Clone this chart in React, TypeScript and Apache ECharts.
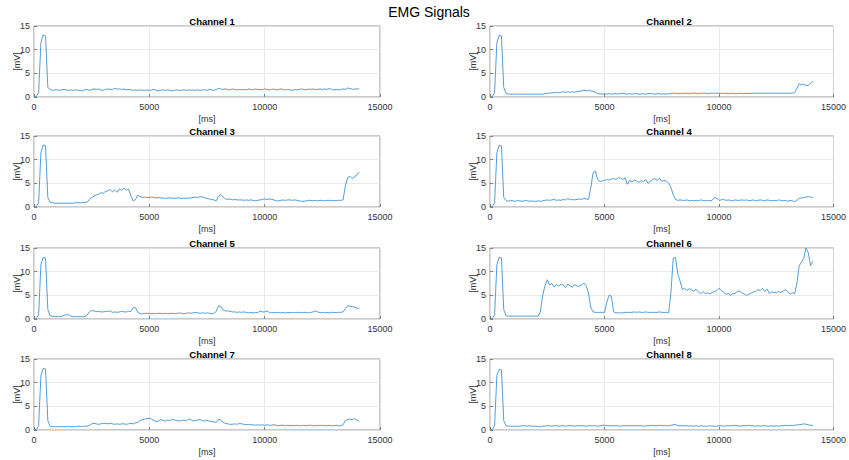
import React, { useEffect, useRef } from "react";
import * as echarts from "echarts";

const STEP_MS = 100;
const CHANNEL_NAMES = ["Channel 1", "Channel 2", "Channel 3", "Channel 4", "Channel 5", "Channel 6", "Channel 7", "Channel 8"];
const X_TICKS = [0, 5000, 10000, 15000];
const Y_TICKS = [0, 5, 10, 15];

const ch1 = [
  0, 0.1, 0.9, 11.5, 13.1, 12.9, 2.0, 1.6, 1.4, 1.5,
  1.5, 1.4, 1.5, 1.6, 1.5, 1.4, 1.5, 1.4, 1.5, 1.4,
  1.4, 1.3, 1.5, 1.6, 1.4, 1.6, 1.7, 1.6, 1.7, 1.5,
  1.4, 1.6, 1.7, 1.6, 1.6, 1.8, 1.7, 1.7, 1.6, 1.7,
  1.5, 1.6, 1.5, 1.4, 1.5, 1.4, 1.5, 1.4, 1.4, 1.5,
  1.4, 1.5, 1.6, 1.4, 1.3, 1.4, 1.5, 1.4, 1.5, 1.4,
  1.3, 1.4, 1.5, 1.4, 1.4, 1.5, 1.4, 1.5, 1.4, 1.5,
  1.4, 1.5, 1.4, 1.5, 1.5, 1.4, 1.6, 1.5, 1.4, 1.6,
  1.8, 1.7, 1.6, 1.7, 1.6, 1.5, 1.7, 1.6, 1.5, 1.6,
  1.5, 1.6, 1.5, 1.7, 1.6, 1.5, 1.7, 1.6, 1.6, 1.5,
  1.7, 1.6, 1.5, 1.6, 1.7, 1.5, 1.6, 1.7, 1.6, 1.5,
  1.6, 1.5, 1.4, 1.6, 1.5, 1.6, 1.7, 1.6, 1.5, 1.7,
  1.6, 1.7, 1.6, 1.6, 1.7, 1.6, 1.7, 1.6, 1.8, 1.6,
  1.5, 1.6, 1.5, 1.6, 1.7, 1.6, 1.9, 1.8, 1.6, 1.7,
  1.7, 1.7,
];
const ch2 = [
  0, 0.1, 0.9, 11.5, 13.0, 12.9, 2.0, 0.8, 0.6, 0.6,
  0.6, 0.6, 0.6, 0.6, 0.6, 0.6, 0.6, 0.6, 0.6, 0.6,
  0.6, 0.6, 0.6, 0.6, 0.7, 0.8, 0.8, 0.9, 0.9, 1.0,
  0.9, 1.0, 1.1, 1.0, 1.1, 1.0, 1.1, 1.0, 1.1, 1.2,
  1.3, 1.4, 1.3, 1.4, 1.3, 1.2, 1.0, 0.7, 0.7, 0.6,
  0.7, 0.6, 0.7, 0.6, 0.7, 0.7, 0.6, 0.7, 0.8, 0.7,
  0.6, 0.7, 0.6, 0.7, 0.7, 0.6, 0.6, 0.7, 0.6, 0.7,
  0.8, 0.7, 0.6, 0.7, 0.7, 0.6, 0.7, 0.6, 0.7, 0.7,
  0.8, 0.8, 0.7, 0.8, 0.7, 0.8, 0.8, 0.7, 0.8, 0.8,
  0.8, 0.7, 0.8, 0.8, 0.8, 0.7, 0.8, 0.8, 0.8, 0.8,
  0.8, 0.8, 0.7, 0.8, 0.7, 0.7, 0.8, 0.7, 0.7, 0.8,
  0.7, 0.8, 0.7, 0.8, 0.7, 0.8, 0.8, 0.8, 0.8, 0.8,
  0.8, 0.8, 0.8, 0.8, 0.8, 0.8, 0.8, 0.8, 0.8, 0.8,
  0.8, 0.8, 0.8, 0.9, 1.8, 2.8, 2.6, 2.7, 2.4, 2.5,
  2.9, 3.3,
];
const ch3 = [
  0, 0.1, 0.9, 11.5, 13.1, 12.9, 2.0, 1.0, 0.9, 0.8,
  0.8, 0.8, 0.8, 0.8, 0.8, 0.8, 0.8, 0.8, 0.9, 0.9,
  0.9, 0.9, 1.0, 1.0, 1.6, 2.0, 2.3, 2.5, 2.7, 3.0,
  2.9, 3.3, 3.4, 3.7, 3.2, 3.6, 3.1, 3.8, 3.5, 4.0,
  3.6, 3.7, 2.4, 1.3, 1.6, 2.5, 2.2, 2.0, 2.1, 2.0,
  2.0, 2.1, 2.0, 1.9, 2.0, 1.9, 1.9, 1.8, 1.9, 1.9,
  1.9, 1.8, 1.9, 1.9, 1.8, 1.9, 1.8, 1.9, 1.9, 2.0,
  2.1, 2.0, 2.2, 2.1, 2.0, 1.8, 1.7, 1.6, 1.5, 1.3,
  2.3, 2.6, 2.1, 1.7, 1.6, 1.7, 1.5, 1.6, 1.5, 1.5,
  1.5, 1.4, 1.5, 1.4, 1.5, 1.4, 1.3, 1.4, 1.5, 1.6,
  1.7, 1.6, 1.7, 1.6, 1.5, 1.3, 1.3, 1.4, 1.5, 1.4,
  1.5, 1.5, 1.4, 1.5, 1.4, 1.3, 1.2, 1.2, 1.3, 1.4,
  1.4, 1.3, 1.4, 1.3, 1.4, 1.4, 1.3, 1.4, 1.4, 1.3,
  1.4, 1.3, 1.4, 1.4, 1.5, 4.5, 6.2, 6.5, 6.0, 6.4,
  6.8, 7.4,
];
const ch4 = [
  0, 0.1, 0.9, 11.5, 13.0, 12.9, 2.0, 1.4, 1.2, 1.4,
  1.3, 1.2, 1.4, 1.3, 1.2, 1.3, 1.4, 1.2, 1.3, 1.2,
  1.2, 1.3, 1.2, 1.3, 1.4, 1.5, 1.4, 1.5, 1.6, 1.4,
  1.5, 1.4, 1.6, 1.5, 1.8, 1.5, 1.6, 1.5, 1.6, 1.7,
  1.6, 1.8, 1.7, 1.6, 4.0, 7.2, 7.6, 5.8, 5.4, 5.5,
  5.6, 5.8, 5.7, 5.9, 6.0, 5.8, 6.2, 6.1, 5.8, 6.2,
  4.8, 5.6, 5.3, 5.7, 5.5, 5.2, 5.6, 5.3, 5.8, 5.0,
  5.4, 5.8, 6.0, 5.6, 6.1, 5.4, 5.6, 5.5, 5.0, 4.2,
  2.6, 1.6, 1.4, 1.5, 1.4, 1.4, 1.5, 1.3, 1.4, 1.3,
  1.4, 1.3, 1.5, 1.4, 1.3, 1.4, 1.3, 1.4, 2.0, 1.9,
  1.4, 1.5, 1.6, 1.4, 1.5, 1.4, 1.3, 1.5, 1.4, 1.4,
  1.5, 1.4, 1.5, 1.3, 1.4, 1.5, 1.3, 1.4, 1.5, 1.4,
  1.3, 1.5, 1.4, 1.3, 1.4, 1.3, 1.5, 1.4, 1.3, 1.4,
  1.2, 1.4, 1.3, 1.1, 1.4, 1.8, 1.9, 2.0, 2.1, 2.2,
  2.1, 2.0,
];
const ch5 = [
  0, 0.1, 0.9, 11.5, 13.0, 12.9, 2.0, 0.7, 0.6, 0.5,
  0.5, 0.5, 0.5, 0.8, 0.9, 0.9, 0.6, 0.5, 0.5, 0.5,
  0.5, 0.5, 0.5, 0.8, 1.5, 1.8, 1.7, 1.6, 1.6, 1.5,
  1.5, 1.6, 1.6, 1.7, 1.4, 1.5, 1.4, 1.5, 1.6, 1.5,
  1.5, 1.6, 1.6, 2.4, 2.4, 1.4, 1.1, 1.1, 1.2, 1.2,
  1.2, 1.1, 1.2, 1.1, 1.2, 1.2, 1.1, 1.2, 1.1, 1.2,
  1.2, 1.1, 1.2, 1.3, 1.2, 1.1, 1.2, 1.3, 1.2, 1.3,
  1.4, 1.3, 1.2, 1.3, 1.2, 1.3, 1.2, 1.1, 1.2, 1.6,
  2.8, 2.6, 1.9, 1.7, 1.7, 1.6, 1.5, 1.5, 1.4, 1.5,
  1.4, 1.5, 1.4, 1.3, 1.4, 1.3, 1.4, 1.3, 1.7, 1.5,
  1.5, 1.7, 1.4, 1.3, 1.4, 1.3, 1.4, 1.3, 1.4, 1.3,
  1.4, 1.3, 1.4, 1.3, 1.4, 1.4, 1.3, 1.4, 1.4, 1.3,
  1.4, 1.5, 1.7, 1.5, 1.3, 1.4, 1.3, 1.4, 1.3, 1.4,
  1.4, 1.3, 1.4, 1.4, 1.5, 2.2, 2.8, 2.7, 2.6, 2.5,
  2.3, 2.2,
];
const ch6 = [
  0, 0.1, 0.9, 11.5, 13.0, 12.9, 2.0, 0.7, 0.6, 0.6,
  0.6, 0.6, 0.6, 0.6, 0.6, 0.6, 0.6, 0.6, 0.6, 0.6,
  0.6, 0.6, 1.5, 5.0, 7.0, 8.3, 7.2, 7.5, 6.8, 7.3,
  6.9, 7.4, 7.1, 6.6, 7.4, 7.0, 6.7, 7.3, 6.9, 7.0,
  7.2, 7.6, 7.0, 5.5, 2.5, 1.5, 1.4, 1.4, 1.4, 1.4,
  1.4, 3.5, 5.0, 4.8, 1.5, 1.3, 1.3, 1.3, 1.3, 1.4,
  1.4, 1.4, 1.4, 1.5, 1.4, 1.5, 1.4, 1.4, 1.5, 1.4,
  1.4, 1.4, 1.4, 1.4, 1.5, 1.4, 1.4, 1.4, 1.3, 5.5,
  12.8, 13.0, 9.5, 8.0, 6.2, 6.5, 6.0, 6.4, 6.2, 5.9,
  6.3, 5.7, 5.3, 5.8, 5.4, 5.5, 5.3, 5.6, 5.8, 6.0,
  6.5, 6.0, 5.7, 5.2, 5.4, 5.0, 5.3, 5.4, 5.8, 5.9,
  5.5, 5.3, 5.0, 5.2, 5.5, 5.7, 5.8, 6.2, 6.0, 6.5,
  5.8, 6.3, 5.4, 5.7, 5.6, 5.5, 5.8, 5.6, 5.9, 6.2,
  5.8, 5.2, 5.6, 5.3, 7.5, 11.2, 12.0, 12.8, 15.0, 14.0,
  11.3, 12.2,
];
const ch7 = [
  0, 0.1, 0.9, 11.5, 13.0, 12.9, 2.0, 0.8, 0.7, 0.7,
  0.7, 0.7, 0.7, 0.7, 0.7, 0.8, 0.7, 0.7, 0.7, 0.8,
  0.8, 0.7, 0.8, 0.8, 1.0, 1.3, 1.4, 1.3, 1.2, 1.3,
  1.4, 1.4, 1.3, 1.4, 1.3, 1.2, 1.3, 1.2, 1.3, 1.3,
  1.2, 1.3, 1.4, 1.3, 1.5, 1.6, 2.0, 2.2, 2.3, 2.4,
  2.5, 2.3, 2.0, 1.8, 1.9, 2.2, 2.0, 1.9, 2.1, 2.0,
  2.3, 2.1, 2.0, 1.9, 2.0, 2.1, 1.9, 2.3, 2.2, 1.9,
  2.0, 2.1, 2.2, 2.0, 1.9, 2.0, 1.9, 1.8, 1.7, 1.6,
  2.3, 2.1, 1.6, 1.4, 1.3, 1.2, 1.2, 1.3, 1.2, 1.4,
  1.3, 1.2, 1.1, 1.2, 1.1, 1.1, 1.0, 1.1, 1.0, 1.1,
  1.0, 1.1, 1.0, 1.0, 1.1, 1.0, 0.9, 1.0, 1.0, 0.9,
  1.0, 0.9, 1.0, 0.9, 1.0, 0.9, 0.9, 1.0, 0.9, 1.0,
  1.0, 0.9, 0.9, 1.0, 0.9, 1.0, 0.9, 0.9, 1.0, 0.9,
  0.9, 1.0, 0.9, 0.9, 1.1, 2.0, 2.2, 2.3, 2.2, 2.4,
  2.1, 1.8,
];
const ch8 = [
  0, 0.1, 0.9, 11.5, 12.8, 12.7, 2.0, 0.9, 0.8, 0.8,
  0.8, 0.8, 0.8, 0.8, 0.9, 0.9, 0.8, 0.9, 0.8, 0.8,
  0.8, 0.7, 0.7, 0.8, 0.8, 0.9, 0.9, 0.8, 0.9, 0.9,
  0.8, 0.9, 0.9, 0.8, 0.9, 0.9, 0.9, 0.8, 0.9, 0.9,
  0.9, 0.9, 0.8, 0.9, 0.9, 0.9, 0.9, 0.8, 0.9, 1.0,
  1.0, 0.9, 0.9, 0.9, 0.9, 0.9, 0.9, 0.8, 0.9, 0.9,
  0.9, 0.9, 0.9, 0.9, 0.9, 0.9, 0.9, 0.8, 0.9, 0.9,
  0.9, 1.0, 0.9, 0.9, 1.0, 0.9, 0.9, 0.9, 0.9, 1.0,
  1.1, 1.2, 0.9, 0.9, 0.9, 0.9, 0.9, 0.8, 0.9, 0.8,
  0.9, 0.8, 0.9, 0.8, 0.8, 0.8, 0.9, 0.8, 0.8, 0.8,
  0.9, 0.9, 0.8, 0.9, 0.9, 0.9, 0.9, 1.0, 0.9, 0.8,
  0.9, 0.9, 0.9, 1.0, 0.9, 0.9, 0.8, 0.9, 0.8, 0.9,
  0.9, 0.8, 0.8, 0.9, 0.8, 0.9, 0.8, 0.9, 0.9, 1.0,
  0.9, 1.0, 0.9, 1.0, 1.1, 1.1, 1.2, 1.3, 1.2, 1.1,
  1.0, 1.0,
];

const CHANNELS = [ch1, ch2, ch3, ch4, ch5, ch6, ch7, ch8];

const FONT = "'Liberation Sans', Arial, Helvetica, sans-serif";
const COL_LEFT = [34, 490];
const COL_WIDTH = [346, 348];
const ROW_TOP = [26, 136, 248, 359];
const PLOT_H = 71;

export default function App() {
  const ref = useRef<HTMLDivElement>(null);
  useEffect(() => {
    if (!ref.current) return;
    const chart = echarts.init(ref.current, null, { renderer: "svg" });
    const grids: any[] = [];
    const xAxes: any[] = [];
    const yAxes: any[] = [];
    const series: any[] = [];
    const titles: any[] = [
      {
        text: "EMG Signals",
        left: 424,
        top: 0,
        textAlign: "center",
        textStyle: { fontFamily: FONT, fontSize: 14, fontWeight: "normal", color: "#000" },
      },
    ];
    CHANNELS.forEach((vals, i) => {
      const col = i % 2;
      const row = Math.floor(i / 2);
      const left = COL_LEFT[col];
      const width = COL_WIDTH[col];
      const top = ROW_TOP[row];
      grids.push({
        left,
        top,
        width,
        height: PLOT_H,
        show: true,
        borderColor: "#7a7a7a",
        borderWidth: 0.8,
        backgroundColor: "#fff",
      });
      titles.push({
        text: CHANNEL_NAMES[i],
        left: left + width / 2,
        top: top - 15,
        textAlign: "center",
        textStyle: { fontFamily: FONT, fontSize: 9.5, fontWeight: "bold", color: "#000" },
      });
      xAxes.push({
        type: "value",
        gridIndex: i,
        min: X_TICKS[0],
        max: X_TICKS[X_TICKS.length - 1],
        interval: X_TICKS[1] - X_TICKS[0],
        name: "[ms]",
        nameLocation: "middle",
        nameGap: 17,
        nameMoveOverlap: false,
        nameTextStyle: { fontFamily: FONT, fontSize: 9, color: "#333" },
        axisLine: { show: false },
        axisTick: { show: true, inside: true, length: 3, lineStyle: { color: "#555", width: 0.7 } },
        axisLabel: { fontFamily: FONT, fontSize: 9, color: "#333", margin: 5, formatter: (v: number) => String(v) },
        splitLine: { show: true, lineStyle: { color: "#e3e3e3", width: 0.8 } },
      });
      yAxes.push({
        type: "value",
        gridIndex: i,
        min: Y_TICKS[0],
        max: Y_TICKS[Y_TICKS.length - 1],
        interval: Y_TICKS[1] - Y_TICKS[0],
        name: "[mV]",
        nameLocation: "middle",
        nameGap: 13,
        nameMoveOverlap: false,
        nameRotate: 90,
        nameTextStyle: { fontFamily: FONT, fontSize: 9, color: "#333" },
        axisLine: { show: false },
        axisTick: { show: true, inside: true, length: 3, lineStyle: { color: "#555", width: 0.7 } },
        axisLabel: { fontFamily: FONT, fontSize: 9, color: "#333", margin: 4, formatter: (v: number) => String(v) },
        splitLine: { show: true, lineStyle: { color: "#e3e3e3", width: 0.8 } },
      });
      series.push({
        type: "line",
        xAxisIndex: i,
        yAxisIndex: i,
        showSymbol: false,
        symbol: "none",
        data: vals.map((v, k) => [k * STEP_MS, v]),
        lineStyle: { color: "#2a85cc", width: 0.8 },
        clip: true,
      });
    });
    chart.setOption({
      animation: false,
      backgroundColor: "#fff",
      title: titles,
      grid: grids,
      xAxis: xAxes,
      yAxis: yAxes,
      series,
    });
    return () => chart.dispose();
  }, []);
  return (
    <div
      ref={ref}
      style={{ position: "fixed", left: 0, top: 0, width: 849, height: 460 }}
    />
  );
}
